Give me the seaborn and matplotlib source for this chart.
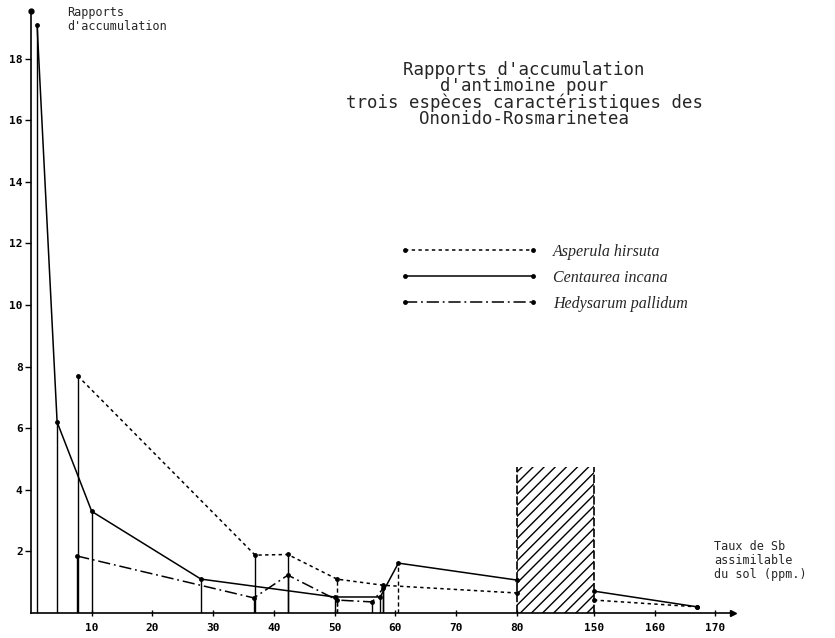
import numpy as np
import pandas as pd
import matplotlib
matplotlib.use("Agg")
import matplotlib.pyplot as plt
import seaborn as sns
from matplotlib.lines import Line2D

# ---------------- data ----------------
species = ["Asperula hirsuta", "Centaurea incana", "Hedysarum pallidum"]

asperula_x = [7.7, 36.9, 42.3, 50.4, 58.0, 80.0, 150.0, 167.0]
asperula_y = [7.7, 1.88, 1.90, 1.10, 0.90, 0.65, 0.42, 0.20]

centaurea_x = [1.0, 4.3, 10.0, 28.0, 50.0, 57.5, 60.5, 80.0, 150.0, 167.0]
centaurea_y = [19.1, 6.2, 3.3, 1.1, 0.52, 0.52, 1.62, 1.07, 0.71, 0.20]

hedysarum_x = [7.6, 36.7, 42.3, 50.4, 56.2, 58.0]
hedysarum_y = [1.85, 0.49, 1.23, 0.42, 0.36, 0.80]

x_ticks = [10, 20, 30, 40, 50, 60, 70, 80, 150, 160, 170]
y_ticks = [2, 4, 6, 8, 10, 12, 14, 16, 18]

gap_start, gap_end = 80, 150          # broken part of the x axis
hatch_top = 4.75                       # height of the hatched zone

title = ("Rapports d'accumulation\nd'antimoine pour\n"
         "trois espèces caractéristiques des\nOnonido-Rosmarinetea")
ylabel = "Rapports\nd'accumulation"
xlabel = "Taux de Sb\nassimilable\ndu sol (ppm.)"

styles = {"Asperula hirsuta": (0, (2.2, 2.2)),
          "Centaurea incana": "-",
          "Hedysarum pallidum": (0, (8, 2.5, 1.2, 2.5))}

# ---------------- build long table ----------------
rows = []
for name, xs, ys in zip(species, [asperula_x, centaurea_x, hedysarum_x],
                        [asperula_y, centaurea_y, hedysarum_y]):
    for x, y in zip(xs, ys):
        rows.append({"species": name, "x": x, "y": y,
                     "segment": 0 if x <= gap_start else 1})
df = pd.DataFrame(rows)

# ---------------- broken x scale ----------------
G = 12.7  # width given to the 80-150 gap, in ppm-units of the linear part


def fwd(x):
    x = np.asarray(x, dtype=float)
    return np.where(x <= gap_start, x,
                    np.where(x >= gap_end, x - gap_end + gap_start + G,
                             gap_start + (x - gap_start) * G / (gap_end - gap_start)))


def inv(u):
    u = np.asarray(u, dtype=float)
    return np.where(u <= gap_start, u,
                    np.where(u >= gap_start + G, u - gap_start - G + gap_end,
                             gap_start + (u - gap_start) * (gap_end - gap_start) / G))


sns.set_theme(style="white")
plt.rcParams["hatch.linewidth"] = 1.0
mono = "DejaVu Sans Mono"

fig = plt.figure(figsize=(8.35, 6.38), dpi=100)
ax = fig.add_axes([31 / 835, 1 - 613 / 638, (733 - 31) / 835, (613 - 11) / 638])
ax.set_xscale("function", functions=(fwd, inv))

for name in species:
    sub = df[df["species"] == name]
    sns.lineplot(data=sub, x="x", y="y", units="segment", estimator=None,
                 sort=True, color="black", lw=1.1, linestyle=styles[name],
                 marker="o", markersize=3.5, markeredgewidth=0,
                 legend=False, ax=ax)

# drop lines from the points to the axis
dashed_stems = [50.4, 60.5]
stem_df = df[(df["x"] != gap_start) & (df["x"] != gap_end) & (df["x"] < 160)]
for x, y in zip(stem_df["x"], stem_df["y"]):
    ls = (0, (3, 2)) if x in dashed_stems else "-"
    ax.vlines(x, 0, y, colors="black", lw=1.0, linestyles=ls)

# hatched zone of the break
ax.fill_between([gap_start, gap_end], 0, hatch_top, facecolor="none",
                edgecolor="black", hatch="///", linewidth=0)
ax.vlines([gap_start, gap_end], 0, hatch_top, colors="black", lw=1.2,
          linestyles=(0, (5, 1.5)))

# axes
ax.set_xlim(0, 172.9)
ax.set_ylim(0, 19.55)
for s in ["top", "right"]:
    ax.spines[s].set_visible(False)
for s in ["left", "bottom"]:
    ax.spines[s].set_color("black")
    ax.spines[s].set_linewidth(1.2)
ax.plot([0], [19.55], "o", color="black", ms=3.5, clip_on=False)
ax.plot([172.9], [0], ">", color="black", ms=5, clip_on=False)

ax.set_xticks(x_ticks)
ax.set_xticklabels([str(t) for t in x_ticks], family=mono,
                   fontsize=8, fontweight="bold")
ax.set_yticks(y_ticks)
ax.set_yticklabels([str(t) for t in y_ticks], family=mono,
                   fontsize=8, fontweight="bold")
ax.xaxis.set_minor_locator(matplotlib.ticker.NullLocator())
ax.tick_params(axis="x", direction="inout", length=5, width=1, colors="black",
               pad=5, bottom=True)
ax.tick_params(axis="y", direction="out", length=4, width=1, colors="black",
               pad=2, left=True)
ax.set_xlabel("")
ax.set_ylabel("")
ax.grid(False)

# texts
fig.text(67 / 835, 1 - 6 / 638, ylabel, family=mono, fontsize=8.5,
         va="top", ha="left", linespacing=1.05)
fig.text(714 / 835, 1 - 540 / 638, xlabel, family=mono, fontsize=8.5,
         va="top", ha="left", linespacing=1.1)
fig.text(524 / 835, 1 - 61 / 638, title, family=mono, fontsize=12.5,
         va="top", ha="center", linespacing=0.88)

handles = [Line2D([0], [0], color="black", lw=1.1, linestyle=styles[n],
                  marker="o", markersize=3.5, markeredgewidth=0)
           for n in species]
leg = ax.legend(handles, species, loc="upper left",
                bbox_to_anchor=(400 / 835, 1 - 244 / 638),
                bbox_transform=fig.transFigure, frameon=False,
                numpoints=2, handlelength=8.6, handletextpad=1.0,
                labelspacing=0.62, borderpad=0, borderaxespad=0,
                prop={"family": "Liberation Serif", "style": "italic",
                      "size": 11.5})

fig.savefig("out.png", dpi=100)
